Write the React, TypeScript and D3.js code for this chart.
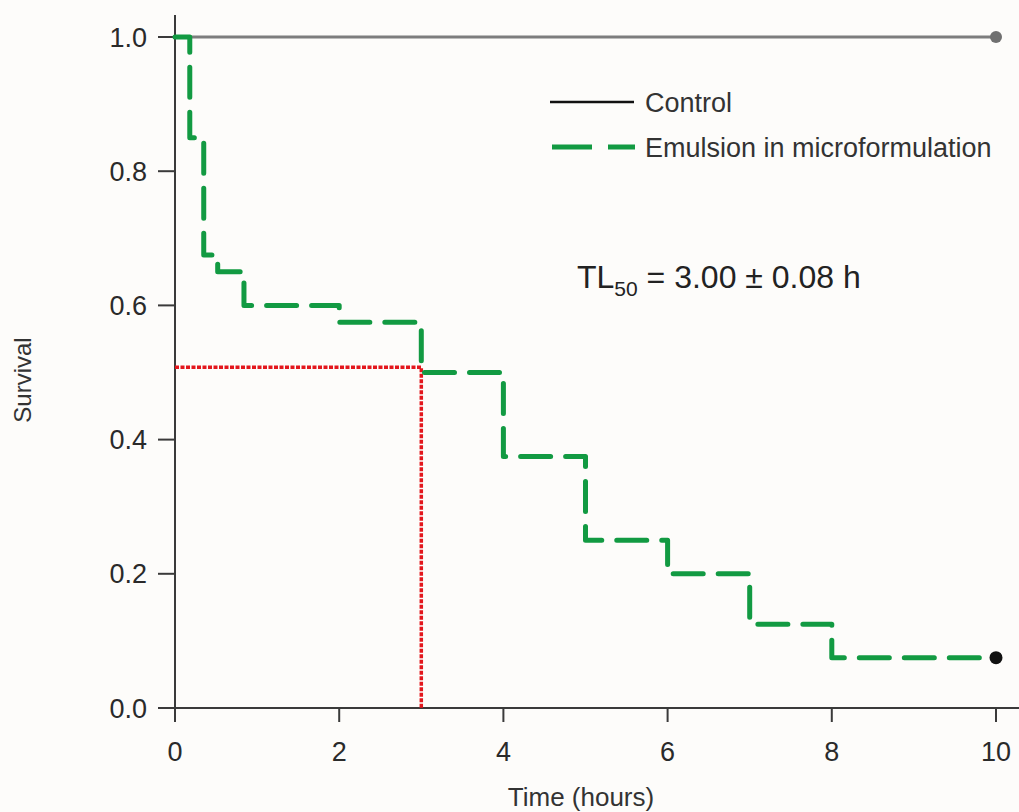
import React, { useEffect, useRef } from 'react';
import * as d3 from 'd3';

// survival data (Kaplan-Meier style steps)
const emulsionTimes = [0, 0.18, 0.35, 0.52, 0.84, 2, 3, 4, 5, 6, 7, 8, 10];
const emulsionSurvival = [1, 0.85, 0.675, 0.65, 0.6, 0.575, 0.5, 0.375, 0.25, 0.2, 0.125, 0.075, 0.075];
const controlTimes = [0, 10];
const controlSurvival = [1, 1];
const xTicks = [0, 2, 4, 6, 8, 10];
const yTicks = [0, 0.2, 0.4, 0.6, 0.8, 1.0];
const legendLabels = ['Control', 'Emulsion in microformulation'];
const tl50 = 3.0;
const tl50Level = 0.508;

export default function App() {
  const ref = useRef<SVGSVGElement | null>(null);

  useEffect(() => {
    const svg = d3.select(ref.current);
    svg.selectAll('*').remove();

    const width = 1019, height = 812;
    const font = 'Liberation Sans, Arial, sans-serif';

    svg.append('rect').attr('width', width).attr('height', height).attr('fill', '#fdfcfa');

    const x = d3.scaleLinear().domain([0, 10]).range([175, 996]);
    const y = d3.scaleLinear().domain([0, 1]).range([708, 37]);

    // axes lines
    const axisColor = '#3a3a3a';
    svg.append('line')
      .attr('x1', x(0)).attr('x2', x(0)).attr('y1', 15).attr('y2', y(0))
      .attr('stroke', axisColor).attr('stroke-width', 2);
    svg.append('line')
      .attr('x1', 158).attr('x2', width).attr('y1', y(0)).attr('y2', y(0))
      .attr('stroke', axisColor).attr('stroke-width', 2);

    // y ticks
    yTicks.forEach(t => {
      svg.append('line')
        .attr('x1', 158).attr('x2', x(0)).attr('y1', y(t)).attr('y2', y(t))
        .attr('stroke', axisColor).attr('stroke-width', 2);
      svg.append('text')
        .attr('x', 147).attr('y', y(t) + 9.5)
        .attr('text-anchor', 'end')
        .attr('font-family', font).attr('font-size', 27).attr('fill', '#2a2a2a')
        .text(d3.format('.1f')(t));
    });

    // x ticks
    xTicks.forEach(t => {
      svg.append('line')
        .attr('x1', x(t)).attr('x2', x(t)).attr('y1', y(0)).attr('y2', y(0) + 14)
        .attr('stroke', axisColor).attr('stroke-width', 2);
      svg.append('text')
        .attr('x', x(t)).attr('y', 761)
        .attr('text-anchor', 'middle')
        .attr('font-family', font).attr('font-size', 27).attr('fill', '#2a2a2a')
        .text(t);
    });

    // axis titles
    svg.append('text')
      .attr('x', 581).attr('y', 806)
      .attr('text-anchor', 'middle')
      .attr('font-family', font).attr('font-size', 26).attr('fill', '#333')
      .text('Time (hours)');
    svg.append('text')
      .attr('transform', 'translate(31,380) rotate(-90)')
      .attr('text-anchor', 'middle')
      .attr('font-family', font).attr('font-size', 24).attr('fill', '#333')
      .text('Survival');

    // red TL50 guide lines
    svg.append('path')
      .attr('d', d3.line()([[x(0), y(tl50Level)], [x(tl50), y(tl50Level)], [x(tl50), y(0)]]))
      .attr('fill', 'none')
      .attr('stroke', '#e3161c').attr('stroke-width', 3.5)
      .attr('stroke-dasharray', '4 1.5');

    const line = d3.line<[number, number]>()
      .x(d => x(d[0]))
      .y(d => y(d[1]))
      .curve(d3.curveStepAfter);

    // control
    const ctrl = controlTimes.map((t, i) => [t, controlSurvival[i]] as [number, number]);
    svg.append('path')
      .attr('d', line(ctrl))
      .attr('fill', 'none')
      .attr('stroke', '#7d7d7d').attr('stroke-width', 2.8);
    svg.append('circle')
      .attr('cx', x(10)).attr('cy', y(controlSurvival[1])).attr('r', 6)
      .attr('fill', '#707070');

    // emulsion
    const emu = emulsionTimes.map((t, i) => [t, emulsionSurvival[i]] as [number, number]);
    svg.append('path')
      .attr('d', line(emu))
      .attr('fill', 'none')
      .attr('stroke', '#129a42').attr('stroke-width', 5)
      .attr('stroke-linecap', 'round').attr('stroke-linejoin', 'round')
      .attr('stroke-dasharray', '30 15');
    svg.append('circle')
      .attr('cx', x(10)).attr('cy', y(emulsionSurvival[emulsionSurvival.length - 1])).attr('r', 6.5)
      .attr('fill', '#111');

    // legend
    svg.append('line')
      .attr('x1', 550).attr('x2', 634).attr('y1', 102).attr('y2', 102)
      .attr('stroke', '#111').attr('stroke-width', 2.5);
    svg.append('line')
      .attr('x1', 552).attr('x2', 635).attr('y1', 147).attr('y2', 147)
      .attr('stroke', '#129a42').attr('stroke-width', 5)
      .attr('stroke-dasharray', '40 16');
    legendLabels.forEach((lab, i) => {
      svg.append('text')
        .attr('x', 645).attr('y', [102, 147][i] + 10)
        .attr('font-family', font).attr('font-size', 27).attr('fill', '#333')
        .text(lab);
    });

    // TL50 annotation
    const ann = svg.append('text')
      .attr('x', 577).attr('y', 288)
      .attr('font-family', font).attr('font-size', 32).attr('fill', '#222');
    ann.append('tspan').text('TL');
    ann.append('tspan').attr('font-size', 21).attr('dy', 8).text('50');
    ann.append('tspan').attr('dy', -8).text(' = ' + d3.format('.2f')(tl50) + ' \u00b1 0.08 h');
  }, []);

  return (
    <div style={{ position: 'absolute', left: 0, top: 0 }}>
      <svg ref={ref} width={1019} height={812} style={{ display: 'block' }} />
    </div>
  );
}
